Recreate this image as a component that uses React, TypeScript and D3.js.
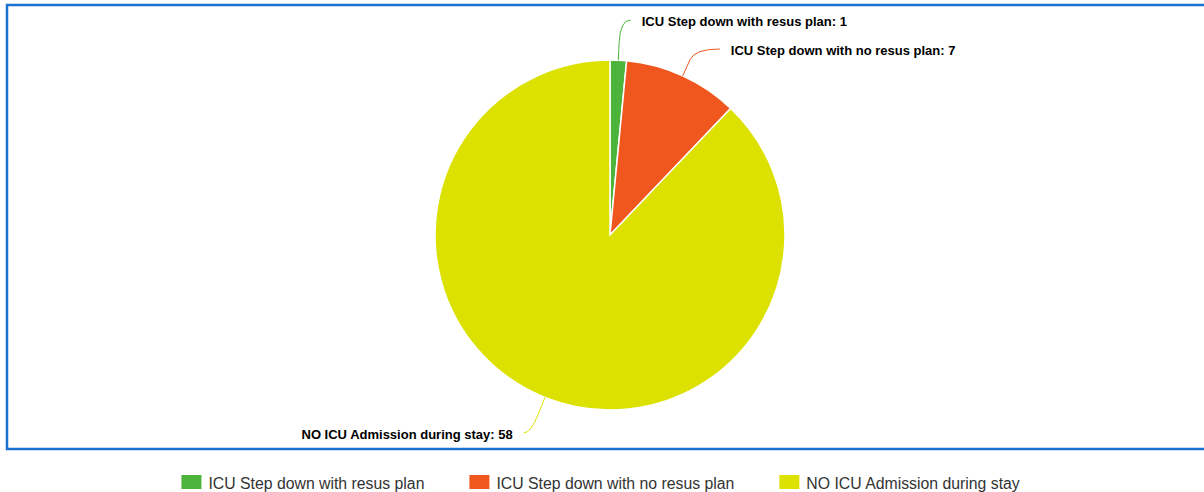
import React from "react";
import * as d3 from "d3";

// Slice data
const categories = [
  "ICU Step down with resus plan",
  "ICU Step down with no resus plan",
  "NO ICU Admission during stay",
];
const counts = [1, 7, 58];
const colors = ["#4cb43a", "#f0571e", "#dce100"];

const W = 1204;
const H = 492;
const cx = 610;
const cy = 235;
const radius = 175;
const labelRadius = radius + 41;
const labelGap = 29;
const labelTop = 20;
const labelBottom = 433;
const labelPad = 11;

const labelFont = "bold 13px 'Liberation Sans', Arial, sans-serif";
const legendFontSize = 15.8;
const legendFont = `${legendFontSize}px 'Liberation Sans', Arial, sans-serif`;

function measure(text: string, font: string): number {
  const c = document.createElement("canvas").getContext("2d");
  if (!c) return text.length * 8;
  c.font = font;
  return c.measureText(text).width;
}

type Datum = { name: string; value: number; color: string };

export default function App() {
  const data: Datum[] = categories.map((name, i) => ({
    name,
    value: counts[i],
    color: colors[i],
  }));

  const pie = d3
    .pie<Datum>()
    .sort(null)
    .value((d) => d.value)
    .startAngle(0)
    .endAngle(2 * Math.PI);
  const arcs = pie(data);
  const arcGen = d3.arc<d3.PieArcDatum<Datum>>().innerRadius(0).outerRadius(radius);

  // Label layout: natural position on an outer circle, then spread vertically per side
  const labels = arcs.map((a) => {
    const mid = (a.startAngle + a.endAngle) / 2;
    const dx = Math.sin(mid);
    const dy = -Math.cos(mid);
    return {
      a,
      mid,
      dx,
      dy,
      right: dx >= 0,
      y: cy + labelRadius * dy,
      x: 0,
    };
  });
  [true, false].forEach((side) => {
    const group = labels.filter((l) => l.right === side).sort((p, q) => p.y - q.y);
    let prev = -Infinity;
    group.forEach((l) => {
      l.y = Math.min(labelBottom, Math.max(labelTop, l.y, prev + labelGap));
      prev = l.y;
    });
  });
  labels.forEach((l) => {
    const off = l.y - cy;
    const h = Math.sqrt(Math.max(0, labelRadius * labelRadius - off * off));
    l.x = cx + (l.right ? h : -h);
  });

  // Legend layout, centred under the chart
  const swW = 20;
  const swH = 14;
  const swGap = 7;
  const itemGap = 45;
  const widths = categories.map((c) => swW + swGap + measure(c, legendFont));
  const total = d3.sum(widths) + itemGap * (categories.length - 1);
  let lx = 601 - total / 2;
  const legendItems = categories.map((c, i) => {
    const x = lx;
    lx += widths[i] + itemGap;
    return { name: c, color: colors[i], x };
  });

  return (
    <svg
      width={W}
      height={H}
      style={{ position: "absolute", left: 0, top: 0, display: "block", background: "#fff" }}
    >
      <rect x={7} y={5} width={W + 10} height={444} fill="#fff" stroke="#1b73cf" strokeWidth={2.5} />

      <g transform={`translate(${cx},${cy})`}>
        {arcs.map((a, i) => (
          <path key={i} d={arcGen(a) || ""} fill={a.data.color} stroke="#fff" strokeWidth={1.5} />
        ))}
      </g>

      {labels.map((l, i) => {
        const p0x = cx + radius * l.dx;
        const p0y = cy + radius * l.dy;
        const bx = cx + (radius + 18) * l.dx;
        const by = cy + (radius + 18) * l.dy;
        const t = l.dy !== 0 ? (l.y - cy) / l.dy : labelRadius;
        const kx = cx + t * l.dx;
        const ky = l.y;
        const path = `M${p0x},${p0y}L${bx},${by}Q${kx},${ky} ${l.x},${l.y}`;
        const text = `${l.a.data.name}: ${l.a.data.value}`;
        return (
          <g key={i}>
            <path d={path} fill="none" stroke={l.a.data.color} strokeWidth={1} />
            <text
              x={l.right ? l.x + labelPad : l.x - labelPad}
              y={l.y + 1}
              textAnchor={l.right ? "start" : "end"}
              dominantBaseline="central"
              style={{ font: labelFont }}
              fill="#000"
            >
              {text}
            </text>
          </g>
        );
      })}

      <g>
        {legendItems.map((it, i) => (
          <g key={i} transform={`translate(${it.x},475)`}>
            <rect width={swW} height={swH} fill={it.color} />
            <text
              x={swW + swGap}
              y={swH / 2 + 1}
              dominantBaseline="central"
              style={{ font: legendFont }}
              fill="#333"
            >
              {it.name}
            </text>
          </g>
        ))}
      </g>
    </svg>
  );
}
